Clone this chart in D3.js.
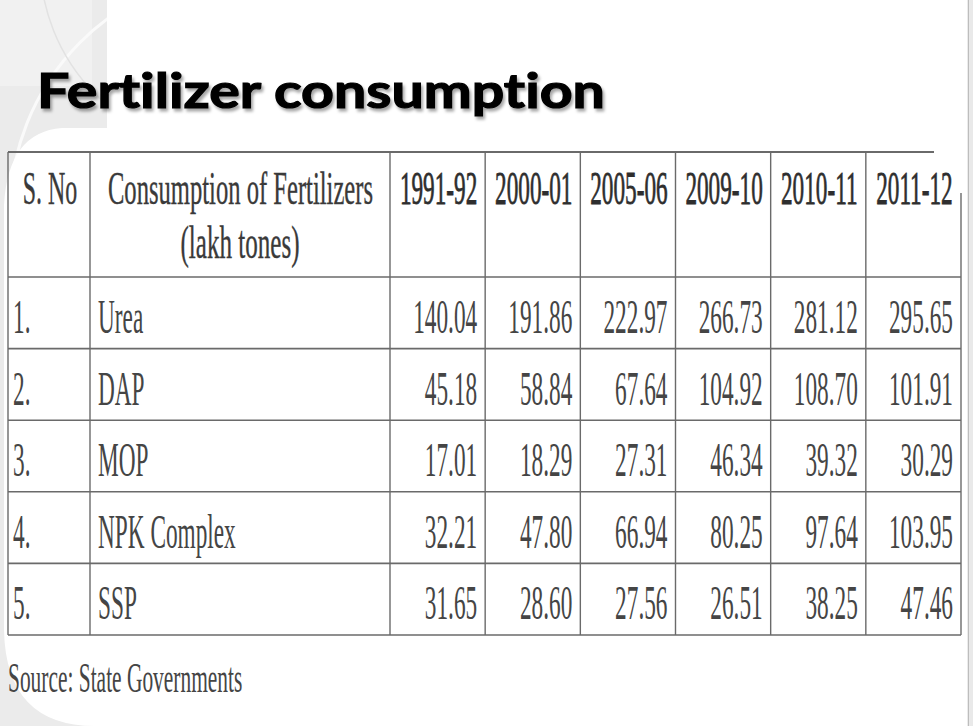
<!DOCTYPE html>
<html>
<head>
<meta charset="utf-8">
<script src="https://cdn.jsdelivr.net/npm/d3@7"></script>
<style>
  html, body { margin: 0; padding: 0; background: #fff; }
  svg { display: block; }
</style>
</head>
<body>
<svg id="chart" width="973" height="726"></svg>
<script>
// ---------- DATA ----------
const title = "Fertilizer consumption";
const headerSNo = "S. No";
const headerName = ["Consumption of Fertilizers", "(lakh tones)"];
const years = ["1991-92", "2000-01", "2005-06", "2009-10", "2010-11", "2011-12"];
const serialNos = ["1.", "2.", "3.", "4.", "5."];
const fertilizers = ["Urea", "DAP", "MOP", "NPK Complex", "SSP"];
const urea = [140.04, 191.86, 222.97, 266.73, 281.12, 295.65];
const dap = [45.18, 58.84, 67.64, 104.92, 108.70, 101.91];
const mop = [17.01, 18.29, 27.31, 46.34, 39.32, 30.29];
const npk = [32.21, 47.80, 66.94, 80.25, 97.64, 103.95];
const ssp = [31.65, 28.60, 27.56, 26.51, 38.25, 47.46];
const sourceNote = "Source: State Governments";

const seriesValues = [urea, dap, mop, npk, ssp];

// ---------- LAYOUT ----------
const W = 973, H = 726;
const svg = d3.select("#chart");
const defs = svg.append("defs");

const tbl = { left: 8, right: 961, top: 152, headerBottom: 277, bottom: 635 };
const colSNoRight = 90, colNameRight = 390;

const xYear = d3.scaleBand().domain(years).range([colNameRight, tbl.right]).paddingInner(0).paddingOuter(0);
const yRow = d3.scaleBand().domain(fertilizers).range([tbl.headerBottom, tbl.bottom]);

const textColor = "#454545";
const lineColor = "#6a6a6a";
const FONT = "'Liberation Serif', 'DejaVu Serif', serif";
const BODY_SIZE = 48, BODY_SX = 0.485;

// ---------- BACKGROUND ----------
svg.append("rect").attr("x", 0).attr("y", 0).attr("width", W).attr("height", H).attr("fill", "#ebebeb");
svg.append("rect").attr("x", 0).attr("y", 0).attr("width", 92).attr("height", 86).attr("fill", "#f1f1f1");
const clip = defs.append("clipPath").attr("id", "sq");
clip.append("rect").attr("x", 0).attr("y", 0).attr("width", 107).attr("height", 200);
svg.append("circle").attr("cx", 250).attr("cy", 212).attr("r", 240)
  .attr("fill", "none").attr("stroke", "#fafafa").attr("stroke-width", 3).attr("clip-path", "url(#sq)");
svg.append("circle").attr("cx", 230).attr("cy", -40).attr("r", 190)
  .attr("fill", "none").attr("stroke", "#e2e2e2").attr("stroke-width", 1.5).attr("clip-path", "url(#sq)");
svg.append("circle").attr("cx", 200).attr("cy", 300).attr("r", 180)
  .attr("fill", "none").attr("stroke", "#e0e0e0").attr("stroke-width", 1.5).attr("clip-path", "url(#sq)");

svg.append("path")
  .attr("d", "M107,0 H967 V726 H95 Q6,726 4,630 V205 Q8,132 62,128 H107 Z")
  .attr("fill", "#ffffff");
svg.append("rect").attr("x", 968).attr("y", 0).attr("width", 5).attr("height", H).attr("fill", "#e9e9e9");
svg.append("line").attr("x1", 968.5).attr("x2", 968.5).attr("y1", 0).attr("y2", H)
  .attr("stroke", "#bdbdbd").attr("stroke-width", 1);

// ---------- TITLE ----------
const f = defs.append("filter").attr("id", "shadow").attr("x", "-5%").attr("y", "-20%").attr("width", "115%").attr("height", "150%");
f.append("feDropShadow").attr("dx", 2).attr("dy", 3).attr("stdDeviation", 1.6)
  .attr("flood-color", "#000").attr("flood-opacity", 0.35);
const titleG = svg.append("g").attr("filter", "url(#shadow)");
const titleText = titleG.append("text")
  .attr("x", 0).attr("y", 0)
  .attr("font-family", "Lato, 'Open Sans', sans-serif")
  .attr("font-weight", 700)
  .attr("font-size", 48)
  .style("font-variant-ligatures", "none")
  .attr("fill", "#000")
  .attr("stroke", "#000").attr("stroke-width", 1.2)
  .text(title);
const titleTargetWidth = 568;
const tw = titleText.node().getComputedTextLength();
titleText.attr("transform", `translate(37,108) scale(${titleTargetWidth / tw},1)`);

// ---------- helper for condensed serif text ----------
function ctext(parent, x, y, str, anchor, opts = {}) {
  const g = parent.append("g").attr("transform", `translate(${x},${y}) scale(${opts.sx || BODY_SX},1)`);
  const t = g.append("text")
    .attr("x", 0).attr("y", 0)
    .attr("text-anchor", anchor)
    .attr("font-family", FONT)
    .attr("font-size", opts.size || BODY_SIZE)
    .attr("font-weight", opts.weight || 400)
    .attr("fill", opts.fill || textColor)
    .text(str);
  if (opts.stroke) t.attr("stroke", opts.fill || textColor).attr("stroke-width", opts.stroke);
  return g;
}

// ---------- TABLE ----------
const table = svg.append("g");

const hLines = [tbl.top, tbl.headerBottom].concat(fertilizers.map(d => yRow(d) + yRow.bandwidth()));
hLines.forEach((y, i) => {
  table.append("line")
    .attr("x1", tbl.left).attr("x2", i === 0 ? 934 : tbl.right)
    .attr("y1", y).attr("y2", y)
    .attr("stroke", lineColor).attr("stroke-width", i === 0 ? 2.2 : 1.6);
});
const vLines = [tbl.left, colSNoRight, colNameRight].concat(years.slice(1).map(d => xYear(d)));
vLines.forEach(x => {
  table.append("line")
    .attr("x1", x).attr("x2", x).attr("y1", tbl.top).attr("y2", tbl.bottom)
    .attr("stroke", lineColor).attr("stroke-width", 1.4);
});
table.append("line")
  .attr("x1", tbl.right).attr("x2", tbl.right).attr("y1", 193).attr("y2", tbl.bottom)
  .attr("stroke", lineColor).attr("stroke-width", 1.4);

// header texts
const hdrY1 = 204, hdrY2 = 258;
const hdrOpts = { fill: "#3a3a3a", size: 46, sx: 0.52, stroke: 0.4 };
ctext(table, (tbl.left + colSNoRight) / 2 + 1, hdrY1, headerSNo, "middle", hdrOpts);
ctext(table, (colSNoRight + colNameRight) / 2 + 0.5, hdrY1, headerName[0], "middle", Object.assign({}, hdrOpts, { sx: 0.535 }));
ctext(table, 240, hdrY2, headerName[1], "middle", Object.assign({}, hdrOpts, { sx: 0.545 }));
years.forEach(yr => {
  ctext(table, xYear(yr) + xYear.bandwidth() / 2 + 1, hdrY1, yr, "middle",
    { fill: "#2e2e2e", size: 46, sx: 0.505, stroke: 0.8 });
});

// body rows
fertilizers.forEach((name, i) => {
  const base = yRow(name) + 56;
  ctext(table, 13, base, serialNos[i], "start");
  ctext(table, 98, base, name, "start");
  seriesValues[i].forEach((v, j) => {
    ctext(table, xYear(years[j]) + xYear.bandwidth() - 8, base, d3.format(".2f")(v), "end");
  });
});

// source note
ctext(svg, 8, 692, sourceNote, "start", { size: 42, sx: 0.51 });
</script>
</body>
</html>
